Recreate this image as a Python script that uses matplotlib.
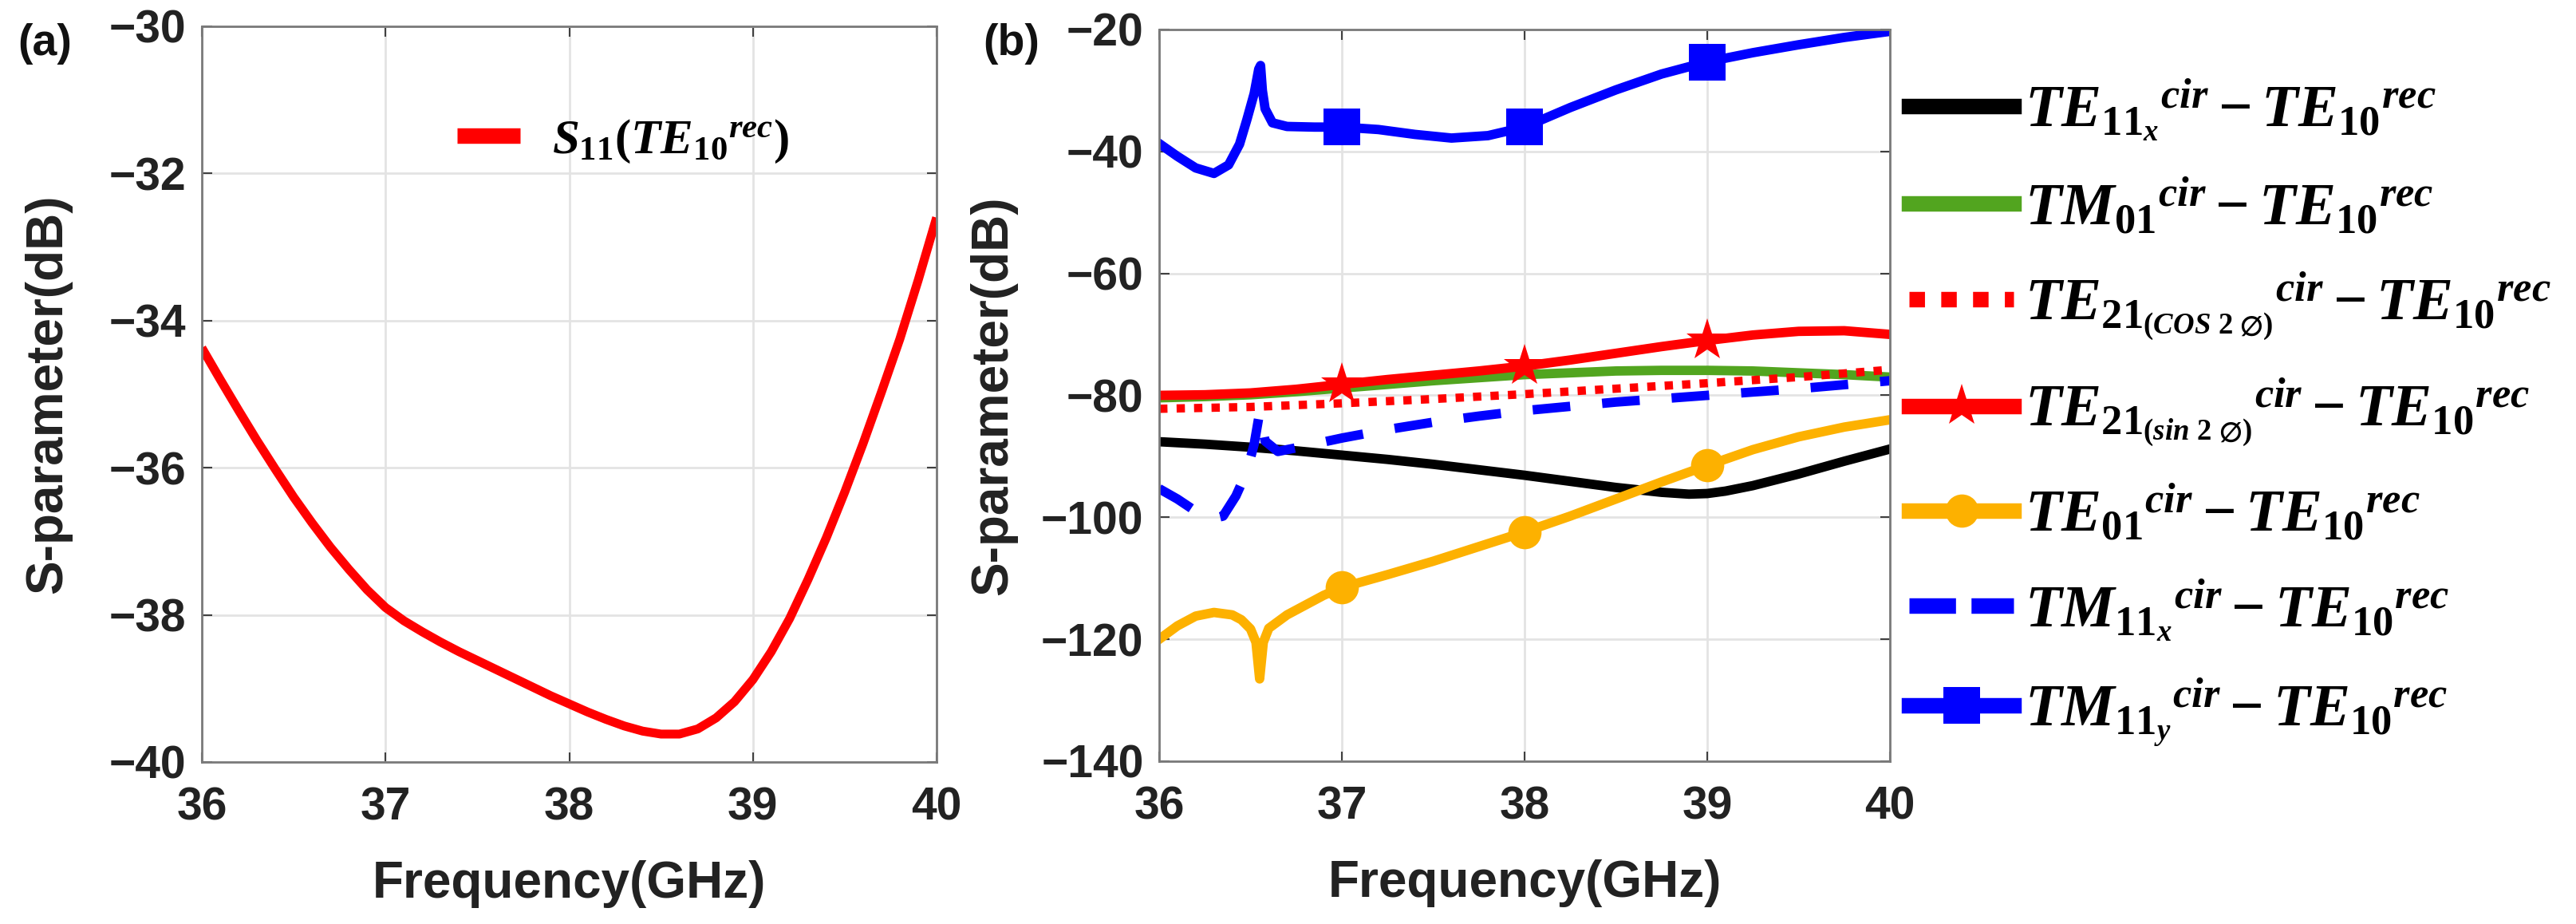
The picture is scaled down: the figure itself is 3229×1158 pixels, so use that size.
import matplotlib
matplotlib.use("Agg")
import matplotlib.pyplot as plt
import numpy as np

# ---------------- data ----------------
# panel (a): S11 of TE10 (rec)
freq_a = [36.0, 36.1, 36.2, 36.3, 36.4, 36.5, 36.6, 36.7, 36.8, 36.9, 37.0, 37.1, 37.2, 37.3,
          37.4, 37.5, 37.6, 37.7, 37.8, 37.9, 38.0, 38.1, 38.2, 38.3, 38.4, 38.5, 38.6, 38.7,
          38.8, 38.9, 39.0, 39.1, 39.2, 39.3, 39.4, 39.5, 39.6, 39.7, 39.8, 39.9, 40.0]
s11_a = [-34.37, -34.80, -35.22, -35.63, -36.02, -36.40, -36.75, -37.08, -37.38, -37.66,
         -37.90, -38.08, -38.23, -38.37, -38.50, -38.62, -38.74, -38.86, -38.98, -39.10,
         -39.21, -39.32, -39.42, -39.51, -39.58, -39.62, -39.62, -39.55, -39.40, -39.18,
         -38.88, -38.50, -38.05, -37.52, -36.95, -36.33, -35.67, -34.97, -34.25, -33.45, -32.60]

# panel (b)
f_te11x = [36.0, 36.25, 36.5, 36.75, 37.0, 37.25, 37.5, 37.75, 38.0, 38.25, 38.5, 38.75,
           38.9, 39.0, 39.1, 39.25, 39.5, 39.75, 40.0]
s_te11x = [-87.6, -88.0, -88.5, -89.1, -89.8, -90.5, -91.3, -92.2, -93.1, -94.1, -95.1, -95.9,
           -96.2, -96.1, -95.7, -94.8, -92.9, -90.8, -88.8]

f_tm01 = [36.0, 36.25, 36.5, 36.75, 37.0, 37.25, 37.5, 37.75, 38.0, 38.25, 38.5, 38.75,
          39.0, 39.25, 39.5, 39.75, 40.0]
s_tm01 = [-80.4, -80.2, -79.9, -79.4, -78.8, -78.2, -77.6, -77.1, -76.6, -76.3, -76.0, -75.9,
          -75.9, -76.0, -76.3, -76.6, -77.0]

f_te21c = [36.0, 36.5, 37.0, 37.5, 38.0, 38.5, 39.0, 39.5, 40.0]
s_te21c = [-82.2, -81.9, -81.3, -80.6, -79.8, -78.9, -78.0, -77.0, -75.8]

f_te21s = [36.0, 36.25, 36.5, 36.75, 37.0, 37.25, 37.5, 37.75, 38.0, 38.25, 38.5, 38.75,
           39.0, 39.25, 39.5, 39.75, 40.0]
s_te21s = [-80.0, -79.9, -79.6, -79.0, -78.2, -77.4, -76.7, -76.0, -75.2, -74.2, -73.1, -72.0,
           -71.0, -70.1, -69.5, -69.4, -70.0]

f_te01 = [36.0, 36.1, 36.2, 36.3, 36.4, 36.45, 36.5, 36.53, 36.55, 36.57, 36.6, 36.7, 36.8,
          36.9, 37.0, 37.25, 37.5, 37.75, 38.0, 38.25, 38.5, 38.75, 39.0, 39.25, 39.5, 39.75, 40.0]
s_te01 = [-120.0, -117.8, -116.2, -115.6, -116.0, -116.8, -118.3, -120.5, -126.5, -120.5,
          -118.2, -116.0, -114.4, -112.8, -111.5, -109.4, -107.2, -104.8, -102.4, -99.8, -97.0,
          -94.2, -91.5, -88.9, -86.8, -85.2, -84.0]

f_tm11x = [36.0, 36.1, 36.2, 36.28, 36.35, 36.42, 36.48, 36.52, 36.55, 36.58, 36.65, 36.75,
           37.0, 37.25, 37.5, 37.75, 38.0, 38.5, 39.0, 39.5, 40.0]
s_tm11x = [-95.3, -97.0, -99.0, -100.3, -99.8, -96.5, -92.5, -88.0, -82.8, -87.5, -89.2, -88.6,
           -87.0, -85.6, -84.4, -83.4, -82.5, -81.1, -80.0, -78.9, -77.6]

f_tm11y = [36.0, 36.1, 36.2, 36.3, 36.38, 36.44, 36.48, 36.52, 36.545, 36.555, 36.565, 36.58,
           36.62, 36.7, 36.85, 37.0, 37.2, 37.4, 37.6, 37.8, 38.0, 38.25, 38.5, 38.75, 39.0,
           39.25, 39.5, 39.75, 40.0]
s_tm11y = [-38.7, -40.8, -42.7, -43.6, -42.2, -38.8, -34.8, -30.5, -26.5, -25.9, -30.0, -33.0,
           -35.3, -35.9, -36.0, -36.0, -36.4, -37.2, -37.8, -37.4, -36.0, -32.8, -29.9, -27.3,
           -25.3, -23.8, -22.5, -21.3, -20.3]

marker_freqs = [37.0, 38.0, 39.0]

labels_b = [
    r'${TE_{11_x}}^{cir}-{TE_{10}}^{rec}$',
    r'${TM_{01}}^{cir}-{TE_{10}}^{rec}$',
    r'${TE_{21_{(COS\ 2\ \emptyset)}}}^{cir}-{TE_{10}}^{rec}$',
    r'${TE_{21_{(sin\ 2\ \emptyset)}}}^{cir}-{TE_{10}}^{rec}$',
    r'${TE_{01}}^{cir}-{TE_{10}}^{rec}$',
    r'${TM_{11_x}}^{cir}-{TE_{10}}^{rec}$',
    r'${TM_{11_y}}^{cir}-{TE_{10}}^{rec}$',
]
label_a = r'$S_{11}({TE_{10}}^{rec})$'

xticks = [36, 37, 38, 39, 40]
yticks_a = [-40, -38, -36, -34, -32, -30]
yticks_b = [-140, -120, -100, -80, -60, -40, -20]

# ---------------- style ----------------
plt.rcParams['font.family'] = ['Liberation Sans', 'DejaVu Sans']
plt.rcParams['font.weight'] = 'bold'
plt.rcParams['mathtext.fontset'] = 'custom'
plt.rcParams['mathtext.rm'] = 'Liberation Serif:bold'
plt.rcParams['mathtext.it'] = 'Liberation Serif:italic:bold'
plt.rcParams['mathtext.bf'] = 'Liberation Serif:bold'
plt.rcParams['mathtext.fallback'] = 'stix'

W, H = 3229, 1158
fig = plt.figure(figsize=(W / 100, H / 100), dpi=100)

SPINE = '#7a7a7a'
GRID = '#e3e3e3'
TICKFS = 41
LABELFS = 46


def style_axes(ax, yt, ylim, ylab_x):
    ax.set_xlim(36, 40)
    ax.set_ylim(*ylim)
    ax.set_xticks(xticks)
    ax.set_yticks(yt)
    ax.grid(True, color=GRID, lw=2.0)
    ax.set_axisbelow(True)
    for s in ax.spines.values():
        s.set_color(SPINE)
        s.set_linewidth(2.0)
    ax.tick_params(direction='in', length=9, width=1.5, color='#404040',
                   top=True, right=True, labelsize=TICKFS)
    ax.tick_params(axis='x', pad=22)
    ax.tick_params(axis='y', pad=14)
    for lab in ax.get_xticklabels() + ax.get_yticklabels():
        lab.set_fontweight('bold')
        lab.set_color('#222222')
    ax.set_xlabel('Frequency(GHz)', fontsize=LABELFS, fontweight='bold', color='#222222',
                  labelpad=28)
    ax.set_ylabel('S-parameter(dB)', fontsize=LABELFS, fontweight='bold', color='#222222')
    ax.yaxis.set_label_coords(ylab_x, 0.5)


# ---------------- panel (a) ----------------
ax_a = fig.add_axes([253 / W, 1 - 955 / H, 921 / W, 922 / H])
style_axes(ax_a, yticks_a, (-40, -30), -0.177)
ax_a.plot(freq_a, s11_a, color='#ff0000', lw=8, label=label_a, solid_capstyle='butt')
leg_a = ax_a.legend(loc='center left', bbox_to_anchor=(573 / W, 1 - 177 / H),
                    bbox_transform=fig.transFigure, frameon=False, fontsize=44,
                    handlelength=1.3, handletextpad=0.65, borderpad=0, borderaxespad=0)
for ln in leg_a.get_lines():
    ln.set_linewidth(14)

# ---------------- panel (b) ----------------
ax_b = fig.add_axes([1453 / W, 1 - 954 / H, 916 / W, 917 / H])
style_axes(ax_b, yticks_b, (-140, -20), -0.194)


def mk_idx(fr):
    return [fr.index(m) for m in marker_freqs]


LW = 8.5
ax_b.plot(f_te11x, s_te11x, color='black', lw=LW, label=labels_b[0])
ax_b.plot(f_tm01, s_tm01, color='#52a51f', lw=LW, label=labels_b[1])
ax_b.plot(f_te21c, s_te21c, color='#ff0000', lw=7.5, dashes=(1.0, 1.1),
          dash_capstyle='butt', label=labels_b[2])
ax_b.plot(f_te21s, s_te21s, color='#ff0000', lw=LW, marker='*', ms=40, mew=0,
          markevery=mk_idx(f_te21s), label=labels_b[3])
ax_b.plot(f_te01, s_te01, color='#fdb100', lw=LW, marker='o', ms=30, mew=0,
          markevery=mk_idx(f_te01), label=labels_b[4])
ax_b.plot(f_tm11x, s_tm11x, color='#0000ff', lw=LW, dashes=(4.0, 3.4),
          dash_capstyle='butt', label=labels_b[5])
ax_b.plot(f_tm11y, s_tm11y, color='#0000ff', lw=LW, marker='s', ms=33, mew=0,
          markevery=mk_idx(f_tm11y), label=labels_b[6])

leg_b = ax_b.legend(loc='upper left', bbox_to_anchor=(2393 / W, 1 - 96 / H),
                    bbox_transform=fig.transFigure, frameon=False, fontsize=54,
                    handlelength=1.75, handletextpad=0.19, borderpad=0, borderaxespad=0,
                    labelspacing=0.56, numpoints=1)
leg_lines = leg_b.get_lines()
for ln in leg_lines:
    ln.set_linewidth(14)
leg_lines[2].set_dashes((1.0, 1.05))
leg_lines[5].set_dashes((3.0, 1.0))

# panel tags
fig.text(22 / W, 1 - 55 / H, '(a)', fontsize=40, fontweight='bold', va='center', ha='left',
         color='#111111')
fig.text(1232 / W, 1 - 55 / H, '(b)', fontsize=40, fontweight='bold', va='center', ha='left',
         color='#111111')

fig.savefig('out.png', dpi=100)
